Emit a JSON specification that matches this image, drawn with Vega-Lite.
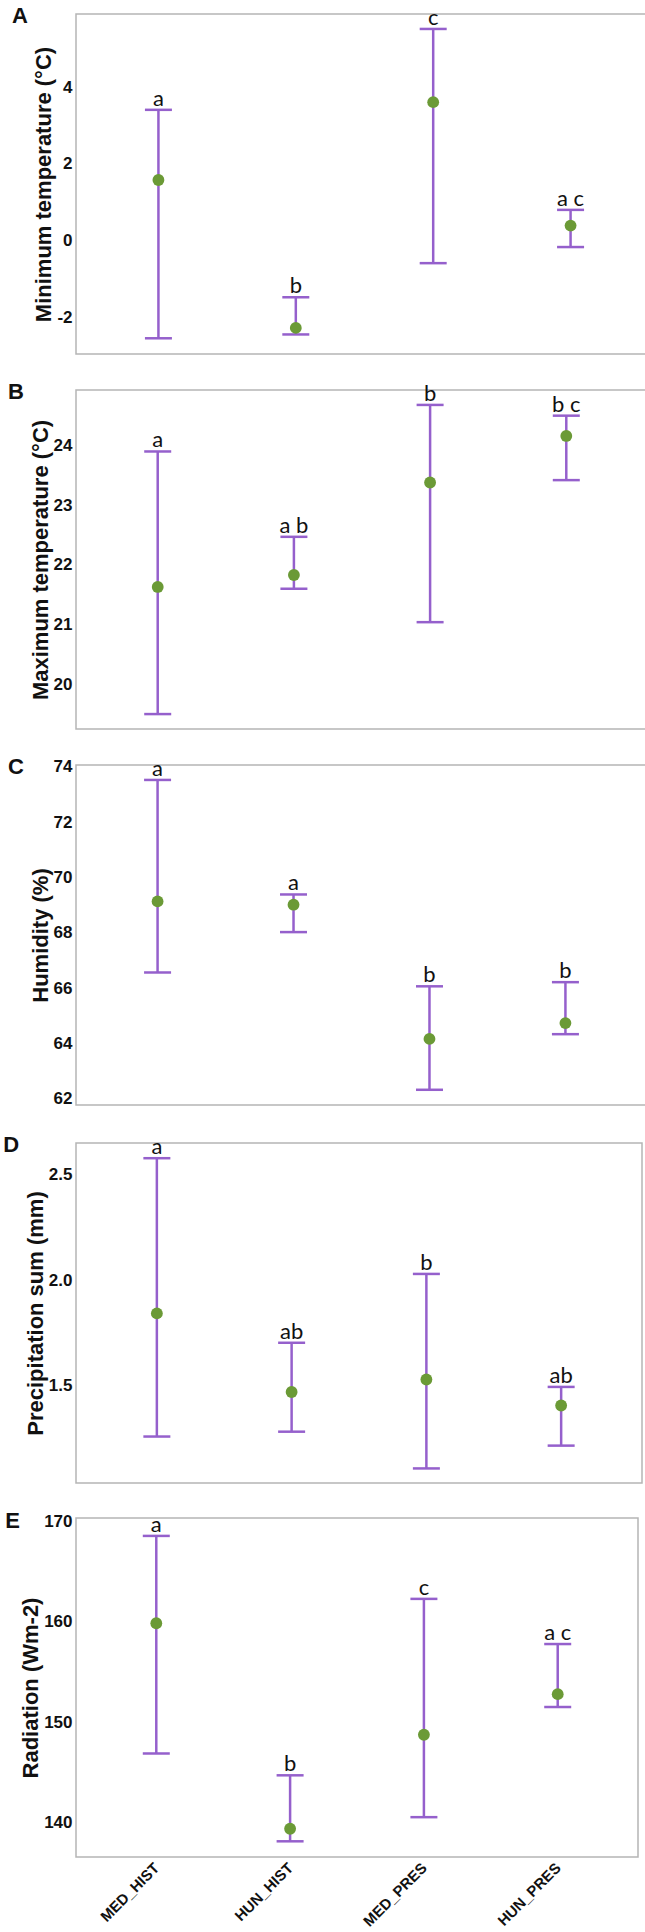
{
  "$schema": "https://vega.github.io/schema/vega-lite/v6.json",
  "background": "white",
  "padding": {"left": 2, "top": 4, "right": 0, "bottom": 0},
  "columns": 1,
  "align": "none",
  "spacing": 25,
  "datasets": {
    "climate": [
      {"panel": "A", "group": "MED_HIST", "mean": 1.58, "lo": -2.55, "hi": 3.41, "letter": "a"},
      {"panel": "A", "group": "HUN_HIST", "mean": -2.28, "lo": -2.45, "hi": -1.48, "letter": "b"},
      {"panel": "A", "group": "MED_PRES", "mean": 3.61, "lo": -0.59, "hi": 5.52, "letter": "c"},
      {"panel": "A", "group": "HUN_PRES", "mean": 0.39, "lo": -0.17, "hi": 0.8, "letter": "a c"},
      {"panel": "B", "group": "MED_HIST", "mean": 21.63, "lo": 19.5, "hi": 23.9, "letter": "a"},
      {"panel": "B", "group": "HUN_HIST", "mean": 21.83, "lo": 21.6, "hi": 22.47, "letter": "a b"},
      {"panel": "B", "group": "MED_PRES", "mean": 23.38, "lo": 21.04, "hi": 24.68, "letter": "b"},
      {"panel": "B", "group": "HUN_PRES", "mean": 24.16, "lo": 23.42, "hi": 24.5, "letter": "b c"},
      {"panel": "C", "group": "MED_HIST", "mean": 69.14, "lo": 66.57, "hi": 73.53, "letter": "a"},
      {"panel": "C", "group": "HUN_HIST", "mean": 69.02, "lo": 68.03, "hi": 69.39, "letter": "a"},
      {"panel": "C", "group": "MED_PRES", "mean": 64.17, "lo": 62.33, "hi": 66.07, "letter": "b"},
      {"panel": "C", "group": "HUN_PRES", "mean": 64.74, "lo": 64.34, "hi": 66.22, "letter": "b"},
      {"panel": "D", "group": "MED_HIST", "mean": 1.843, "lo": 1.26, "hi": 2.578, "letter": "a"},
      {"panel": "D", "group": "HUN_HIST", "mean": 1.471, "lo": 1.283, "hi": 1.704, "letter": "ab"},
      {"panel": "D", "group": "MED_PRES", "mean": 1.53, "lo": 1.109, "hi": 2.03, "letter": "b"},
      {"panel": "D", "group": "HUN_PRES", "mean": 1.407, "lo": 1.217, "hi": 1.495, "letter": "ab"},
      {"panel": "E", "group": "MED_HIST", "mean": 159.84, "lo": 146.89, "hi": 168.52, "letter": "a"},
      {"panel": "E", "group": "HUN_HIST", "mean": 139.41, "lo": 138.16, "hi": 144.72, "letter": "b"},
      {"panel": "E", "group": "MED_PRES", "mean": 148.75, "lo": 140.56, "hi": 162.26, "letter": "c"},
      {"panel": "E", "group": "HUN_PRES", "mean": 152.79, "lo": 151.51, "hi": 157.77, "letter": "a c"}
    ]
  },
  "config": {
    "locale": {"number": {"decimal": ".", "thousands": ",", "grouping": [3], "currency": ["", ""], "minus": "-"}},
    "view": {"stroke": "#b5b5b5", "strokeWidth": 1.5},
    "axisY": {
      "grid": false, "ticks": false, "domain": false,
      "labelFont": "Liberation Sans", "labelFontSize": 17, "labelFontWeight": "bold", "labelColor": "#111111", "labelPadding": 4,
      "titleFont": "Liberation Sans", "titleFontSize": 22, "titleFontWeight": "bold", "titleColor": "#111111", "titlePadding": 1
    },
    "title": {
      "anchor": "start", "frame": "bounds", "font": "Liberation Sans", "fontSize": 22, "fontWeight": "bold",
      "color": "#111111", "offset": -21, "dx": -21
    }
  },
  "concat": [
    {
      "title": "A",
      "width": 577, "height": 340,
      "data": {"name": "climate"},
      "transform": [{"filter": "datum.panel === 'A'"}],
      "encoding": {
        "x": {"field": "group", "type": "nominal", "sort": ["MED_HIST", "HUN_HIST", "MED_PRES", "HUN_PRES"], "scale": {"type": "point", "padding": 0.6}, "axis": null}
      },
      "layer": [
        {"mark": {"type": "rule", "color": "#9560cc", "strokeWidth": 2.5},
         "encoding": {"y": {"field": "lo", "type": "quantitative", "title": "Minimum temperature (°C)", "scale": {"domain": [-2.96, 5.91], "nice": false, "zero": false}, "axis": {"values": [-2, 0, 2, 4], "format": "d"}}, "y2": {"field": "hi"}}},
        {"mark": {"type": "tick", "orient": "horizontal", "color": "#9560cc", "size": 27, "thickness": 2.5, "opacity": 1},
         "encoding": {"y": {"field": "lo", "type": "quantitative", "title": "Minimum temperature (°C)"}}},
        {"mark": {"type": "tick", "orient": "horizontal", "color": "#9560cc", "size": 27, "thickness": 2.5, "opacity": 1},
         "encoding": {"y": {"field": "hi", "type": "quantitative", "title": "Minimum temperature (°C)"}}},
        {"mark": {"type": "point", "filled": true, "color": "#6b9a36", "size": 140, "opacity": 1, "strokeWidth": 0},
         "encoding": {"y": {"field": "mean", "type": "quantitative", "title": "Minimum temperature (°C)"}}},
        {"mark": {"type": "text", "font": "Lato", "fontSize": 22, "baseline": "alphabetic", "dy": -4, "color": "#111111"},
         "encoding": {"y": {"field": "hi", "type": "quantitative", "title": "Minimum temperature (°C)"}, "text": {"field": "letter"}}}
      ]
    },
    {
      "title": "B",
      "width": 572, "height": 339,
      "data": {"name": "climate"},
      "transform": [{"filter": "datum.panel === 'B'"}],
      "encoding": {
        "x": {"field": "group", "type": "nominal", "sort": ["MED_HIST", "HUN_HIST", "MED_PRES", "HUN_PRES"], "scale": {"type": "point", "padding": 0.6}, "axis": null}
      },
      "layer": [
        {"mark": {"type": "rule", "color": "#9560cc", "strokeWidth": 2.5},
         "encoding": {"y": {"field": "lo", "type": "quantitative", "title": "Maximum temperature (°C)", "scale": {"domain": [19.25, 24.93], "nice": false, "zero": false}, "axis": {"values": [20, 21, 22, 23, 24], "format": "d"}}, "y2": {"field": "hi"}}},
        {"mark": {"type": "tick", "orient": "horizontal", "color": "#9560cc", "size": 27, "thickness": 2.5, "opacity": 1},
         "encoding": {"y": {"field": "lo", "type": "quantitative", "title": "Maximum temperature (°C)"}}},
        {"mark": {"type": "tick", "orient": "horizontal", "color": "#9560cc", "size": 27, "thickness": 2.5, "opacity": 1},
         "encoding": {"y": {"field": "hi", "type": "quantitative", "title": "Maximum temperature (°C)"}}},
        {"mark": {"type": "point", "filled": true, "color": "#6b9a36", "size": 140, "opacity": 1, "strokeWidth": 0},
         "encoding": {"y": {"field": "mean", "type": "quantitative", "title": "Maximum temperature (°C)"}}},
        {"mark": {"type": "text", "font": "Lato", "fontSize": 22, "baseline": "alphabetic", "dy": -4, "color": "#111111"},
         "encoding": {"y": {"field": "hi", "type": "quantitative", "title": "Maximum temperature (°C)"}, "text": {"field": "letter"}}}
      ]
    },
    {
      "title": "C",
      "width": 571, "height": 340,
      "data": {"name": "climate"},
      "transform": [{"filter": "datum.panel === 'C'"}],
      "encoding": {
        "x": {"field": "group", "type": "nominal", "sort": ["MED_HIST", "HUN_HIST", "MED_PRES", "HUN_PRES"], "scale": {"type": "point", "padding": 0.6}, "axis": null}
      },
      "layer": [
        {"mark": {"type": "rule", "color": "#9560cc", "strokeWidth": 2.5},
         "encoding": {"y": {"field": "lo", "type": "quantitative", "title": "Humidity (%)", "scale": {"domain": [61.78, 74.07], "nice": false, "zero": false}, "axis": {"values": [62, 64, 66, 68, 70, 72, 74], "format": "d"}}, "y2": {"field": "hi"}}},
        {"mark": {"type": "tick", "orient": "horizontal", "color": "#9560cc", "size": 27, "thickness": 2.5, "opacity": 1},
         "encoding": {"y": {"field": "lo", "type": "quantitative", "title": "Humidity (%)"}}},
        {"mark": {"type": "tick", "orient": "horizontal", "color": "#9560cc", "size": 27, "thickness": 2.5, "opacity": 1},
         "encoding": {"y": {"field": "hi", "type": "quantitative", "title": "Humidity (%)"}}},
        {"mark": {"type": "point", "filled": true, "color": "#6b9a36", "size": 140, "opacity": 1, "strokeWidth": 0},
         "encoding": {"y": {"field": "mean", "type": "quantitative", "title": "Humidity (%)"}}},
        {"mark": {"type": "text", "font": "Lato", "fontSize": 22, "baseline": "alphabetic", "dy": -4, "color": "#111111"},
         "encoding": {"y": {"field": "hi", "type": "quantitative", "title": "Humidity (%)"}, "text": {"field": "letter"}}}
      ]
    },
    {
      "title": "D",
      "width": 566, "height": 340,
      "data": {"name": "climate"},
      "transform": [{"filter": "datum.panel === 'D'"}],
      "encoding": {
        "x": {"field": "group", "type": "nominal", "sort": ["MED_HIST", "HUN_HIST", "MED_PRES", "HUN_PRES"], "scale": {"type": "point", "padding": 0.6}, "axis": null}
      },
      "layer": [
        {"mark": {"type": "rule", "color": "#9560cc", "strokeWidth": 2.5},
         "encoding": {"y": {"field": "lo", "type": "quantitative", "title": "Precipitation sum (mm)", "scale": {"domain": [1.04, 2.65], "nice": false, "zero": false}, "axis": {"values": [1.5, 2.0, 2.5], "format": ".1f"}}, "y2": {"field": "hi"}}},
        {"mark": {"type": "tick", "orient": "horizontal", "color": "#9560cc", "size": 27, "thickness": 2.5, "opacity": 1},
         "encoding": {"y": {"field": "lo", "type": "quantitative", "title": "Precipitation sum (mm)"}}},
        {"mark": {"type": "tick", "orient": "horizontal", "color": "#9560cc", "size": 27, "thickness": 2.5, "opacity": 1},
         "encoding": {"y": {"field": "hi", "type": "quantitative", "title": "Precipitation sum (mm)"}}},
        {"mark": {"type": "point", "filled": true, "color": "#6b9a36", "size": 140, "opacity": 1, "strokeWidth": 0},
         "encoding": {"y": {"field": "mean", "type": "quantitative", "title": "Precipitation sum (mm)"}}},
        {"mark": {"type": "text", "font": "Lato", "fontSize": 22, "baseline": "alphabetic", "dy": -4, "color": "#111111"},
         "encoding": {"y": {"field": "hi", "type": "quantitative", "title": "Precipitation sum (mm)"}, "text": {"field": "letter"}}}
      ]
    },
    {
      "title": {"text": "E", "dx": -14.5},
      "width": 562, "height": 339,
      "data": {"name": "climate"},
      "transform": [{"filter": "datum.panel === 'E'"}],
      "encoding": {
        "x": {"field": "group", "type": "nominal", "sort": ["MED_HIST", "HUN_HIST", "MED_PRES", "HUN_PRES"], "scale": {"type": "point", "padding": 0.6},
              "axis": {"title": null, "ticks": false, "domain": false, "labelAngle": -45, "labelAlign": "right", "labelBaseline": "middle", "labelPadding": 8,
                       "labelFont": "Liberation Sans", "labelFontSize": 15, "labelFontWeight": "bold", "labelColor": "#111111"}}
      },
      "layer": [
        {"mark": {"type": "rule", "color": "#9560cc", "strokeWidth": 2.5},
         "encoding": {"y": {"field": "lo", "type": "quantitative", "title": "Radiation (Wm-2)", "scale": {"domain": [136.6, 170.3], "nice": false, "zero": false}, "axis": {"values": [140, 150, 160, 170], "format": "d"}}, "y2": {"field": "hi"}}},
        {"mark": {"type": "tick", "orient": "horizontal", "color": "#9560cc", "size": 27, "thickness": 2.5, "opacity": 1},
         "encoding": {"y": {"field": "lo", "type": "quantitative", "title": "Radiation (Wm-2)"}}},
        {"mark": {"type": "tick", "orient": "horizontal", "color": "#9560cc", "size": 27, "thickness": 2.5, "opacity": 1},
         "encoding": {"y": {"field": "hi", "type": "quantitative", "title": "Radiation (Wm-2)"}}},
        {"mark": {"type": "point", "filled": true, "color": "#6b9a36", "size": 140, "opacity": 1, "strokeWidth": 0},
         "encoding": {"y": {"field": "mean", "type": "quantitative", "title": "Radiation (Wm-2)"}}},
        {"mark": {"type": "text", "font": "Lato", "fontSize": 22, "baseline": "alphabetic", "dy": -4, "color": "#111111"},
         "encoding": {"y": {"field": "hi", "type": "quantitative", "title": "Radiation (Wm-2)"}, "text": {"field": "letter"}}}
      ]
    }
  ]
}
